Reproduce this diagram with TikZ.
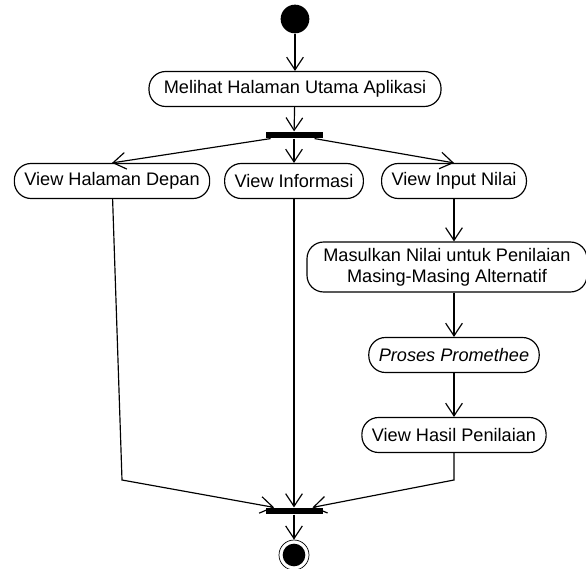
\documentclass[tikz,border=0pt]{standalone}
\usepackage{fontspec}
\setmainfont{Liberation Sans}
\usepackage{tikz}
\usetikzlibrary{positioning, arrows.meta}

\begin{document}
\begin{tikzpicture}[x=0.03cm,y=-0.03cm,line width=1pt,
  >={Straight Barb[length=0.38cm,width=0.5cm]},
  act/.style={draw,rectangle,rounded corners=0.5cm,minimum height=1.05cm,inner xsep=0.3cm,
    font=\fontsize{15.5}{18}\selectfont},
  bar/.style={fill=black,rectangle,minimum width=1.71cm,minimum height=0.18cm,inner sep=0pt}]
\useasboundingbox (0,0) rectangle (586,569);
% start, fork
\node[fill=black,circle,minimum size=0.86cm,inner sep=0pt] (start) at (295,19) {};
\node[act,minimum width=8.76cm] (main) at (295,89) {Melihat Halaman Utama Aplikasi};
\node[bar] (fork) at (294,135) {};
% three branches
\node[act] (halaman) at (112,181) {View Halaman Depan};
\node[act] (info) at (294,181) {View Informasi};
\node[act] (input) at (454,181) {View Input Nilai};
\node[act,align=center,minimum height=1.5cm,minimum width=8.4cm] (masuk) at (447,267) {Masulkan Nilai untuk Penilaian\\Masing-Masing Alternatif};
\node[act] (proses) at (454,355) {\itshape Proses Promethee};
\node[act] (hasil) at (454,435) {View Hasil Penilaian};
% join, end
\node[bar] (join) at (294,511) {};
\node[draw,circle,minimum size=0.9cm,inner sep=0pt,line width=0.6pt] (end) at (294,555) {};
\node[fill=black,circle,minimum size=0.68cm,inner sep=0pt] at (end) {};
\coordinate (bendl) at (122,480);
\coordinate (bendr) at (453,480);

\draw[->] (start) -- (main);
\draw[->] (main) -- (fork);
\draw[->] (fork) -- (halaman.north);
\draw[->] (fork) -- (info);
\draw[->] (fork) -- (input.north);
\draw[->] (input) -- (input |- masuk.north);
\draw[->] (proses |- masuk.south) -- (proses);
\draw[->] (proses) -- (hasil);
\draw[->] (halaman) -- (bendl) -- (join);
\draw[->] (info) -- (join);
\draw[->] (hasil) -- (hasil |- bendr) -- (join);
\draw[->] (join) -- (end);
\end{tikzpicture}
\end{document}
